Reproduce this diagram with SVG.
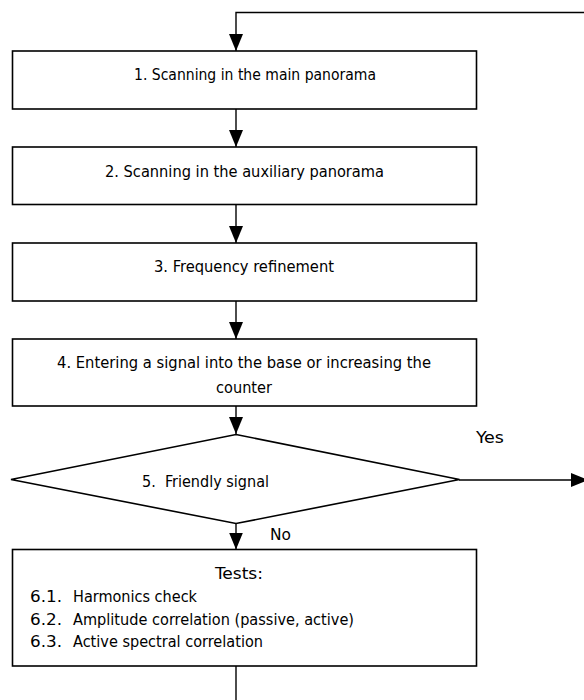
<svg xmlns="http://www.w3.org/2000/svg" width="584" height="700" viewBox="0 0 584 700">
  <style>
    .box { fill: #ffffff; stroke: #000000; stroke-width: 1.6; }
    .lbl { font-family: "DejaVu Sans Condensed", "DejaVu Sans", Verdana, sans-serif; font-stretch: condensed; font-size: 15px; fill: #000000; }
    .wire { fill: none; stroke: #000000; stroke-width: 1.4; }
    .arr { marker-end: url(#head); }
  </style>
  <defs>
    <marker id="head" markerUnits="userSpaceOnUse" viewBox="0 0 17 14" refX="17" refY="7" markerWidth="17" markerHeight="14" orient="auto">
      <path d="M0 0 L17 7 L0 14 Z" fill="#000000"/>
    </marker>
  </defs>
  <rect width="584" height="700" fill="#ffffff"/>

  <g id="connectors">
    <path class="wire arr" d="M590 12.5 H236 V51"/>
    <path class="wire arr" d="M236 109 V147"/>
    <path class="wire arr" d="M236 204.5 V243"/>
    <path class="wire arr" d="M236 301 V339"/>
    <path class="wire arr" d="M236 406 V434"/>
    <path class="wire arr" d="M236 523.5 V549.5"/>
    <path class="wire arr" d="M459 480 H588"/>
    <path class="wire" d="M236 666 V700"/>
    <text class="lbl" x="476" y="443" textLength="28" lengthAdjust="spacingAndGlyphs">Yes</text>
    <text class="lbl" x="270" y="540" textLength="21" lengthAdjust="spacingAndGlyphs">No</text>
  </g>

  <g id="step1">
    <rect class="box" x="12.5" y="51" width="464" height="58"/>
    <text class="lbl" x="134" y="80" textLength="242" lengthAdjust="spacingAndGlyphs">1. Scanning in the main panorama</text>
  </g>

  <g id="step2">
    <rect class="box" x="12.5" y="147" width="464" height="57.5"/>
    <text class="lbl" x="105" y="177" textLength="279" lengthAdjust="spacingAndGlyphs">2. Scanning in the auxiliary panorama</text>
  </g>

  <g id="step3">
    <rect class="box" x="12.5" y="243" width="464" height="58"/>
    <text class="lbl" x="154" y="272" textLength="180" lengthAdjust="spacingAndGlyphs">3. Frequency refinement</text>
  </g>

  <g id="step4">
    <rect class="box" x="12.5" y="339" width="464" height="67"/>
    <text class="lbl" x="57" y="368" textLength="374" lengthAdjust="spacingAndGlyphs">4. Entering a signal into the base or increasing the</text>
    <text class="lbl" x="216" y="392.5" textLength="56" lengthAdjust="spacingAndGlyphs">counter</text>
  </g>

  <g id="step5">
    <polygon class="box" points="236,434.5 459.5,479.5 236,523.5 11,479.5"/>
    <text class="lbl" x="142" y="487" xml:space="preserve" textLength="127" lengthAdjust="spacingAndGlyphs">5.  Friendly signal</text>
  </g>

  <g id="step6">
    <rect class="box" x="12.5" y="549.5" width="464" height="116.5"/>
    <text class="lbl" x="215" y="579" textLength="48" lengthAdjust="spacingAndGlyphs">Tests:</text>
    <text class="lbl" x="30" y="601.5" textLength="32" lengthAdjust="spacingAndGlyphs">6.1.</text>
    <text class="lbl" x="73" y="601.5" textLength="124" lengthAdjust="spacingAndGlyphs">Harmonics check</text>
    <text class="lbl" x="30" y="624.5" textLength="32" lengthAdjust="spacingAndGlyphs">6.2.</text>
    <text class="lbl" x="73" y="624.5" textLength="281" lengthAdjust="spacingAndGlyphs">Amplitude correlation (passive, active)</text>
    <text class="lbl" x="30" y="646.5" textLength="32" lengthAdjust="spacingAndGlyphs">6.3.</text>
    <text class="lbl" x="73" y="646.5" textLength="190" lengthAdjust="spacingAndGlyphs">Active spectral correlation</text>
  </g>
</svg>
